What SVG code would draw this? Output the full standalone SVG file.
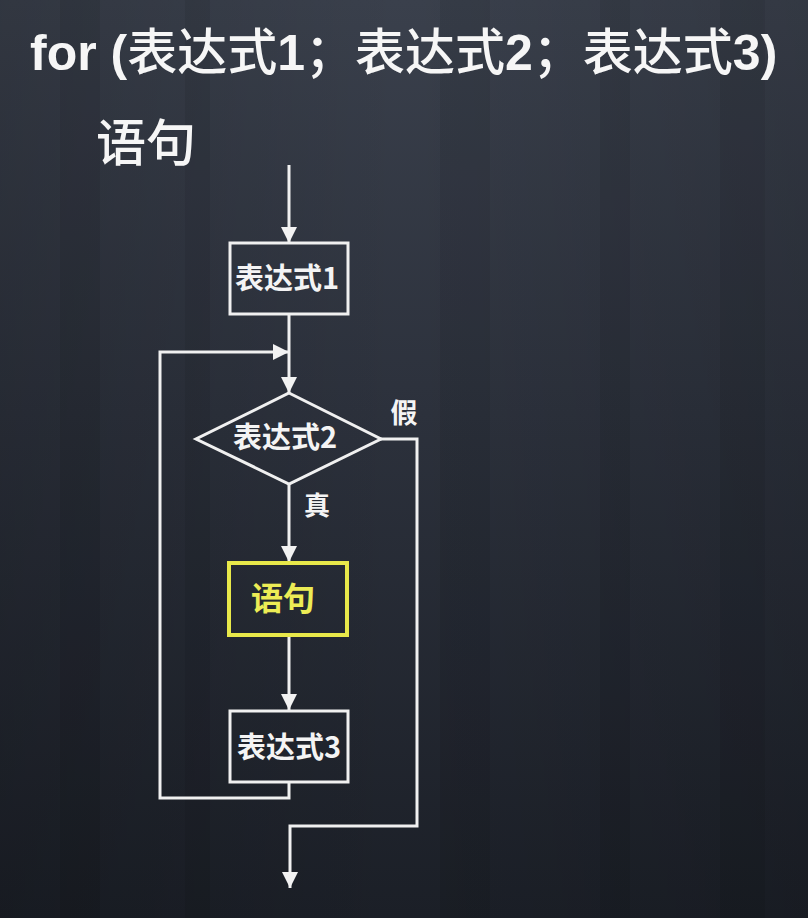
<svg xmlns="http://www.w3.org/2000/svg" width="808" height="918" viewBox="0 0 808 918">
<defs>
<linearGradient id="bg" x1="0" y1="0" x2="0" y2="1">
<stop offset="0" stop-color="#3a404c"/>
<stop offset="0.45" stop-color="#2c313c"/>
<stop offset="1" stop-color="#1b1f27"/>
</linearGradient>
<linearGradient id="bgx" x1="0" y1="0" x2="1" y2="0">
<stop offset="0" stop-color="#000" stop-opacity="0.15"/>
<stop offset="0.5" stop-color="#000" stop-opacity="0"/>
<stop offset="1" stop-color="#000" stop-opacity="0.12"/>
</linearGradient>
<marker id="ah" viewBox="0 0 10 10" refX="10" refY="5" markerWidth="5.5" markerHeight="5.5" orient="auto" markerUnits="strokeWidth">
<path d="M0,0 L10,5 L0,10 z" fill="#f2f2f2"/>
</marker>
<style>
.ln{fill:none;stroke:#f0f0f0;stroke-width:3;}
.box{fill:none;stroke:#f0f0f0;stroke-width:3;}
.ybox{fill:none;stroke:#e8e84a;stroke-width:4;}
.t{font-family:"Noto Sans CJK SC","Noto Sans",sans-serif;font-weight:700;fill:#f4f4f4;}
.lbl{font-size:29px;text-anchor:middle;}
.yt{fill:#ecec55;}
.big{font-family:"Noto Sans CJK SC","Noto Sans",sans-serif;font-weight:500;fill:#f6f6f6;font-size:50px;}
.lat{font-family:"Liberation Sans",Arial,sans-serif;font-weight:700;}
</style>
</defs>
<rect width="808" height="918" fill="url(#bg)"/>
<rect width="808" height="918" fill="url(#bgx)"/>
<g opacity="0.06" fill="#000">
<rect x="60" y="0" width="40" height="918"/>
<rect x="185" y="0" width="25" height="918"/>
<rect x="440" y="0" width="50" height="918"/>
<rect x="600" y="0" width="30" height="918"/>
<rect x="720" y="0" width="45" height="918"/>
</g>

<g id="title">
<text class="big" x="30" y="70"><tspan class="lat">for (</tspan>表达式<tspan class="lat">1</tspan>；表达式<tspan class="lat">2</tspan>；表达式<tspan class="lat">3)</tspan></text>
<text class="big" x="96" y="161">语句</text>
</g>

<g id="connectors">
<line class="ln" x1="289" y1="165" x2="289" y2="243" marker-end="url(#ah)"/>
<line class="ln" x1="289" y1="314" x2="289" y2="393" marker-end="url(#ah)"/>
<polyline class="ln" points="289,782 289,798 160,798 160,352 289,352" marker-end="url(#ah)"/>
<line class="ln" x1="289" y1="483" x2="289" y2="562" marker-end="url(#ah)"/>
<line class="ln" x1="289" y1="635" x2="289" y2="710" marker-end="url(#ah)"/>
<polyline class="ln" points="380,439 417,439 417,826 290,826 290,888" marker-end="url(#ah)"/>
<text class="t" x="317" y="515" font-size="26" text-anchor="middle">真</text>
<text class="t" x="404" y="423" font-size="27" text-anchor="middle">假</text>
</g>

<g id="expr1">
<rect class="box" x="230" y="243" width="118" height="71"/>
<text class="t lbl" x="287" y="289">表达式1</text>
</g>

<g id="expr2">
<polygon class="box" points="289,393 381,439 289,484 196,439"/>
<text class="t lbl" x="285" y="448">表达式2</text>
</g>

<g id="stmt">
<rect class="ybox" x="229" y="563" width="118" height="72"/>
<text class="t yt" x="283" y="610" font-size="32" text-anchor="middle">语句</text>
</g>

<g id="expr3">
<rect class="box" x="230" y="711" width="118" height="71"/>
<text class="t lbl" x="289" y="758">表达式3</text>
</g>
</svg>
